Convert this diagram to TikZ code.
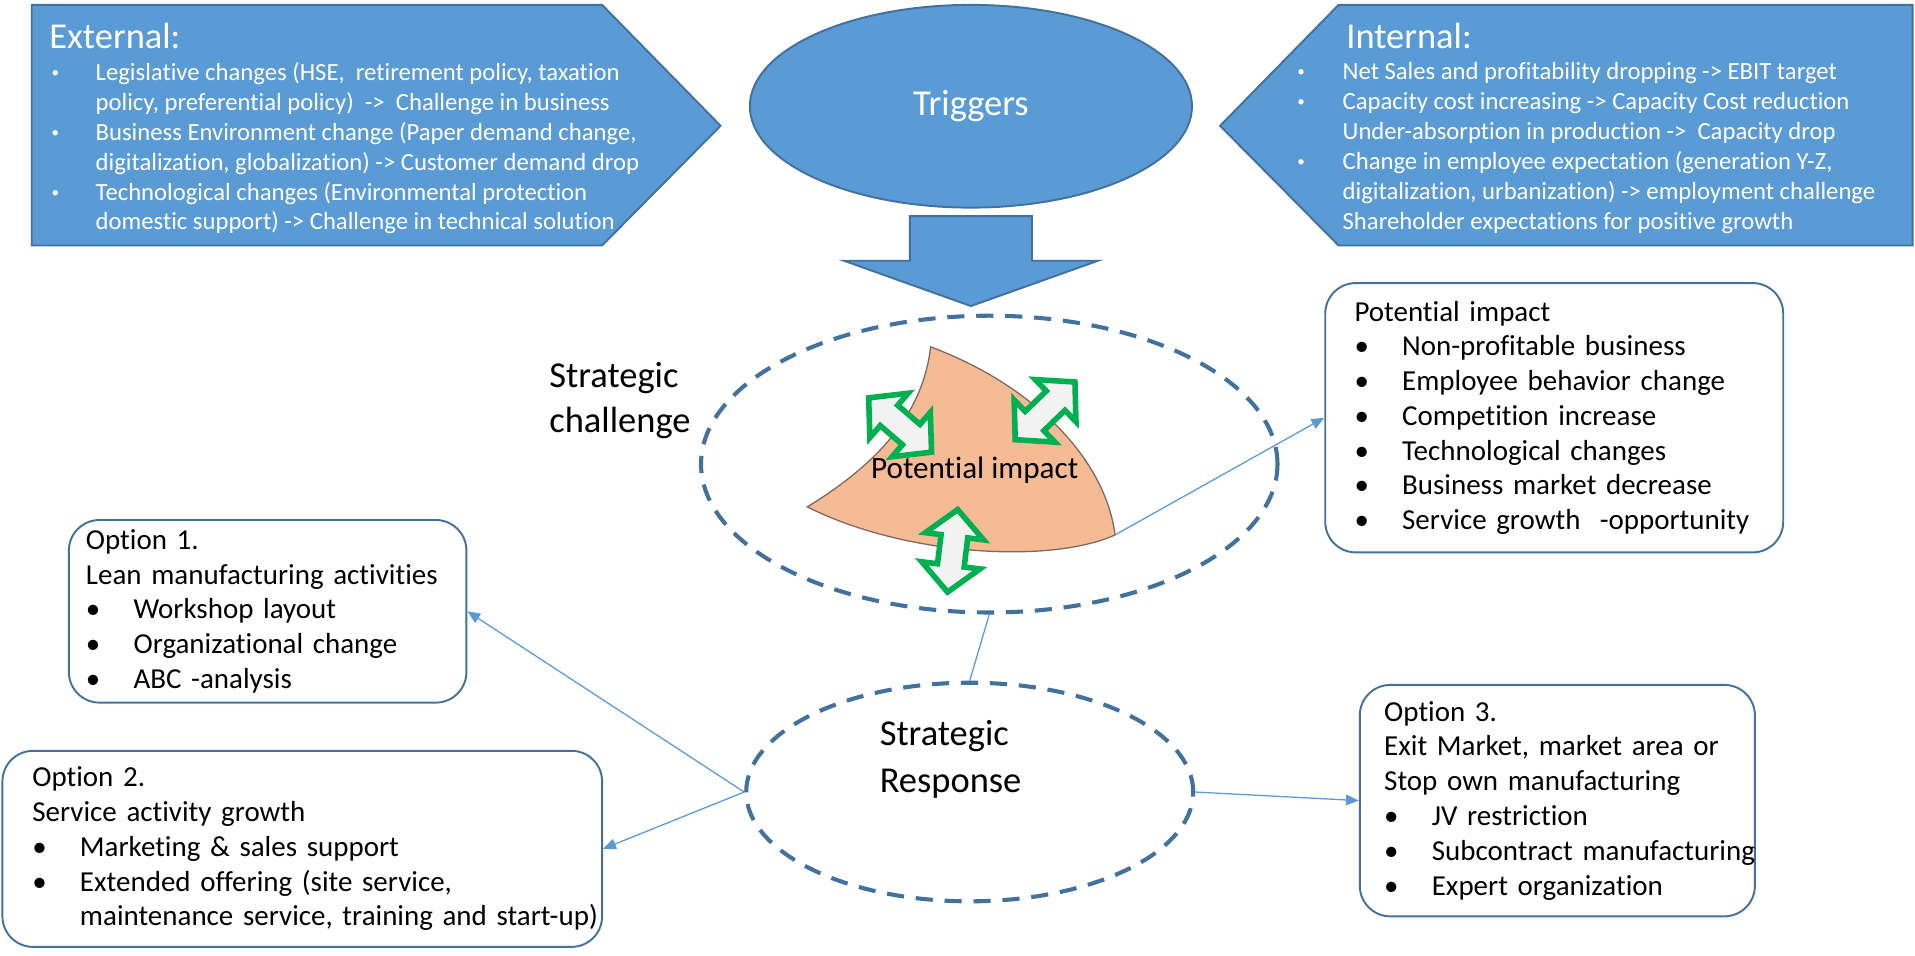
\documentclass[tikz,border=0pt]{standalone}
\usepackage{fontspec}
\setmainfont{Carlito}[Ligatures={TeX,NoCommon}]
\usetikzlibrary{arrows.meta, shapes.geometric}
\definecolor{triggerblue}{RGB}{91, 155, 213}
\definecolor{edgeblue}{RGB}{65, 113, 156}
\definecolor{blobpeach}{RGB}{245, 187, 148}
\definecolor{blobedge}{RGB}{125, 105, 95}
\definecolor{arrowgreen}{RGB}{0, 176, 80}
\definecolor{arrowfill}{RGB}{242, 242, 242}
\newcommand{\bul}[2][0.78cm]{\mbox{\makebox[#1][l]{\textbullet}#2}}
\newcommand{\smallbul}[2][0.72cm]{\mbox{\makebox[#1][l]{\raisebox{0.25ex}{\fontsize{7}{7}\selectfont\textbullet}}#2}}
\newcommand{\cont}[2][0.78cm]{\mbox{\hspace*{#1}#2}}

\begin{document}
\begin{tikzpicture}[x=0.2mm, y=-0.2mm,
    blockfill/.style={fill=triggerblue, draw=edgeblue, line width=0.9pt},
    whitetext/.style={text=white, align=left, inner sep=0pt},
    dashring/.style={ellipse, draw=edgeblue, line width=1.9pt, dash pattern=on 8pt off 5.5pt},
    optbox/.style={draw=edgeblue, line width=0.9pt, rounded corners=0.5cm, anchor=north west,
        align=left, inner ysep=0pt, font=\fontsize{13.5}{16.2}\selectfont},
    link/.style={draw=triggerblue, line width=0.6pt, -{Triangle[length=6pt, width=5pt]}},
    greenarrow/.style={fill=arrowfill, draw=arrowgreen, line width=2.6pt, line join=miter},
    twoway/.pic={\draw[greenarrow] (-34,0) -- (-12,-24) -- (-12,-11) -- (12,-11) -- (12,-24)
        -- (34,0) -- (12,24) -- (12,11) -- (-12,11) -- (-12,24) -- cycle;}]
    \useasboundingbox (0,0) rectangle (1568,782);

    \draw[blockfill] (26,4) -- (493,4) -- (590,103) -- (493,201) -- (26,201) -- cycle;
    \draw[blockfill] (999,103) -- (1096,4) -- (1566,4) -- (1566,201) -- (1096,201) -- cycle;
    \node[whitetext, anchor=west, font=\fontsize{17}{20}\selectfont] (exttitle) at (40,29.5) {External:};
    \node[whitetext, anchor=north west, font=\fontsize{11.5}{13.9}\selectfont] (extlist) at (42,51) {%
        \smallbul[0.72cm]{Legislative changes (HSE,\ \ retirement policy, taxation}\\
        \cont[0.72cm]{policy, preferential policy)\ \ ->\ \ Challenge in business}\\
        \smallbul[0.72cm]{Business Environment change (Paper demand change,}\\
        \cont[0.72cm]{digitalization, globalization) -> Customer demand drop}\\
        \smallbul[0.72cm]{Technological changes (Environmental protection}\\
        \cont[0.72cm]{domestic support) -> Challenge in technical solution}};
    \node[whitetext, anchor=west, font=\fontsize{17}{20}\selectfont] (inttitle) at (1102,29.5) {Internal:};
    \node[whitetext, anchor=north west, font=\fontsize{11.5}{13.9}\selectfont] (intlist) at (1062,51) {%
        \smallbul[0.74cm]{Net Sales and profitability dropping -> EBIT target}\\
        \smallbul[0.74cm]{Capacity cost increasing -> Capacity Cost reduction}\\
        \cont[0.74cm]{Under-absorption in production ->\ \ Capacity drop}\\
        \smallbul[0.74cm]{Change in employee expectation (generation Y-Z,}\\
        \cont[0.74cm]{digitalization, urbanization) -> employment challenge}\\
        \cont[0.74cm]{Shareholder expectations for positive growth}};

    \node[ellipse, blockfill, minimum width=7.24cm, minimum height=3.32cm, text=white,
        font=\fontsize{17}{20}\selectfont] (triggers) at (795,87) {Triggers};
    \draw[blockfill] (745,177) -- (845,177) -- (845,213.5) -- (899,213.5) -- (795,250.6)
        -- (691,213.5) -- (745,213.5) -- cycle;

    \node[dashring, minimum width=9.44cm, minimum height=4.86cm] (challenge) at (810,380) {};
    \node[anchor=west, align=left, inner sep=0pt, font=\fontsize{17}{21.3}\selectfont] (challengelabel)
        at (449.5,328) {Strategic\\challenge};
    \draw[fill=blobpeach, draw=blobedge, line width=0.6pt] (762,284) .. controls (845,315) and (905,375) .. (913,438)
        .. controls (860,462) and (740,455) .. (661,415) .. controls (710,385) and (755,345) .. cycle;
    \coordinate (blobtip) at (913,438);
    \pic[rotate=-40.8] at (737,348) {twoway};
    \pic[rotate=44] at (855.7,336.4) {twoway};
    \pic[rotate=83] at (780,451) {twoway};
    \node[anchor=west, inner sep=0pt, font=\fontsize{14.5}{17}\selectfont] (blobtext) at (713,385) {Potential impact};

    \node[dashring, minimum width=7.32cm, minimum height=3.58cm] (response) at (794,648.5) {};
    \node[anchor=west, align=left, inner sep=0pt, font=\fontsize{17}{22}\selectfont] (responselabel)
        at (720,621.5) {Strategic\\Response};

    \node[optbox, minimum width=7.50cm, minimum height=4.41cm, text width=6.54cm, inner xsep=0.48cm] (impact)
        at (1084.3,231) {%
        \mbox{Potential impact}\\
        \bul{Non-profitable business}\\
        \bul{Employee behavior change}\\
        \bul{Competition increase}\\
        \bul{Technological changes}\\
        \bul{Business market decrease}\\
        \bul{Service growth\ \ -opportunity}};
    \node[optbox, minimum width=6.51cm, minimum height=2.99cm, text width=5.95cm, inner xsep=0.28cm] (opt1)
        at (55.6,425) {%
        \mbox{Option 1.}\\
        \mbox{Lean manufacturing activities}\\
        \bul{Workshop layout}\\
        \bul{Organizational change}\\
        \bul{ABC -analysis}};
    \node[optbox, minimum width=9.82cm, minimum height=3.21cm, text width=8.84cm, inner xsep=0.49cm] (opt2)
        at (1.2,614) {%
        \mbox{Option 2.}\\
        \mbox{Service activity growth}\\
        \bul{Marketing \& sales support}\\
        \bul{Extended offering (site service,}\\
        \cont{maintenance service, training and start-up)}};
    \node[optbox, minimum width=6.47cm, minimum height=3.79cm, text width=5.67cm, inner xsep=0.40cm] (opt3)
        at (1112.6,560) {%
        \mbox{Option 3.}\\
        \mbox{Exit Market, market area or}\\
        \mbox{Stop own manufacturing}\\
        \bul{JV restriction}\\
        \bul{Subcontract manufacturing}\\
        \bul{Expert organization}};

    \draw[link] (blobtip) -- (impact.west);
    \draw[link, -] (challenge.south) -- (response.north);
    \draw[link] (response.west) -- (opt1.east);
    \draw[link] (response.west) -- (opt2.east);
    \draw[link] (response.east) -- (opt3.west);
\end{tikzpicture}
\end{document}
